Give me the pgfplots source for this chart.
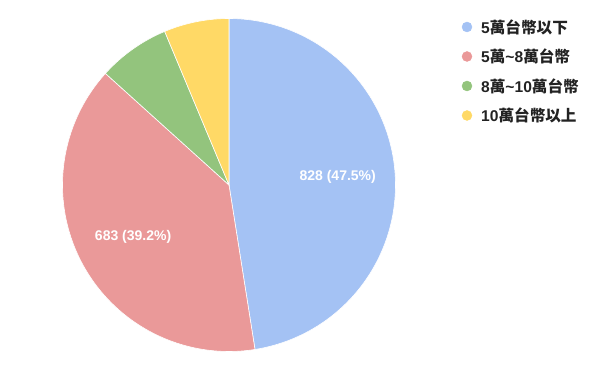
\documentclass[border=0pt]{standalone}
\usepackage{pgfplots}
\usepackage{pgfplotstable}
\pgfplotsset{compat=1.18}
\usepackage{fontspec}
\setmainfont{Liberation Sans}
\newfontfamily\cjk{Noto Sans CJK TC}
\definecolor{cA}{HTML}{A4C2F4}
\definecolor{cB}{HTML}{EA9999}
\definecolor{cC}{HTML}{93C47D}
\definecolor{cD}{HTML}{FFD966}
\definecolor{txt}{HTML}{222222}
\pgfplotstableread{
label value
A 828
B 683
C 122
D 110
}\piedata
\begin{document}
\begin{tikzpicture}
\pgfplotstablegetelem{0}{value}\of\piedata \let\vA\pgfplotsretval
\pgfplotstablegetelem{1}{value}\of\piedata \let\vB\pgfplotsretval
\pgfplotstablegetelem{2}{value}\of\piedata \let\vC\pgfplotsretval
\pgfplotstablegetelem{3}{value}\of\piedata \let\vD\pgfplotsretval
\pgfmathsetmacro\T{\vA+\vB+\vC+\vD}
\pgfmathsetmacro\aA{90}
\pgfmathsetmacro\aB{\aA-\vA/\T*360}
\pgfmathsetmacro\aC{\aB-\vB/\T*360}
\pgfmathsetmacro\aD{\aC-\vC/\T*360}
\pgfmathsetmacro\aE{\aD-\vD/\T*360}
\pgfmathsetmacro\mA{(\aA+\aB)/2}
\pgfmathsetmacro\mB{(\aB+\aC)/2}
\def\cx{229}\def\cy{186}\def\R{166.5}
\pgfmathsetmacro\lAx{\cx+0.655*\R*cos(\mA)}
\pgfmathsetmacro\lAy{\cy+0.655*\R*sin(\mA)}
\pgfmathsetmacro\lBx{\cx+0.655*\R*cos(\mB)}
\pgfmathsetmacro\lBy{\cy+0.655*\R*sin(\mB)}
\begin{axis}[
  scale only axis, width=600pt, height=371pt,
  xmin=0, xmax=600, ymin=0, ymax=371,
  hide axis, clip=false,
]
\addplot[draw=none, mark=none, forget plot] coordinates {(0,0) (600,371)};
\addplot[fill=cA, draw=white, line width=0.6pt, domain=\aB:\aA, samples=120, variable=\t]
  ({\cx+\R*cos(t)},{\cy+\R*sin(t)}) -- (axis cs:\cx,\cy) -- cycle;
\addplot[fill=cB, draw=white, line width=0.6pt, domain=\aC:\aB, samples=120, variable=\t]
  ({\cx+\R*cos(t)},{\cy+\R*sin(t)}) -- (axis cs:\cx,\cy) -- cycle;
\addplot[fill=cC, draw=white, line width=0.6pt, domain=\aD:\aC, samples=40, variable=\t]
  ({\cx+\R*cos(t)},{\cy+\R*sin(t)}) -- (axis cs:\cx,\cy) -- cycle;
\addplot[fill=cD, draw=white, line width=0.6pt, domain=\aE:\aD, samples=40, variable=\t]
  ({\cx+\R*cos(t)},{\cy+\R*sin(t)}) -- (axis cs:\cx,\cy) -- cycle;
\node[text=white, font=\fontsize{14}{16}\selectfont\bfseries] at (axis cs:\lAx,\lAy) {828 (47.5\%)};
\node[text=white, font=\fontsize{14}{16}\selectfont\bfseries] at (axis cs:\lBx,\lBy) {683 (39.2\%)};
% legend
\addplot[only marks, mark=*, mark size=5pt, color=cA] coordinates {(467,344)};
\addplot[only marks, mark=*, mark size=5pt, color=cB] coordinates {(467,314.5)};
\addplot[only marks, mark=*, mark size=5pt, color=cC] coordinates {(467,285)};
\addplot[only marks, mark=*, mark size=5pt, color=cD] coordinates {(467,255.5)};
\begin{scope}[every node/.style={anchor=west, text=txt, inner sep=0pt, font=\fontsize{15.6}{17}\selectfont\bfseries}]
\node at (axis cs:481,344) {5{\cjk 萬台幣以下}};
\node at (axis cs:481,314.5) {5{\cjk 萬}\textasciitilde 8{\cjk 萬台幣}};
\node at (axis cs:481,285) {8{\cjk 萬}\textasciitilde 10{\cjk 萬台幣}};
\node at (axis cs:481,255.5) {10{\cjk 萬台幣以上}};
\end{scope}
\end{axis}
\end{tikzpicture}
\end{document}
